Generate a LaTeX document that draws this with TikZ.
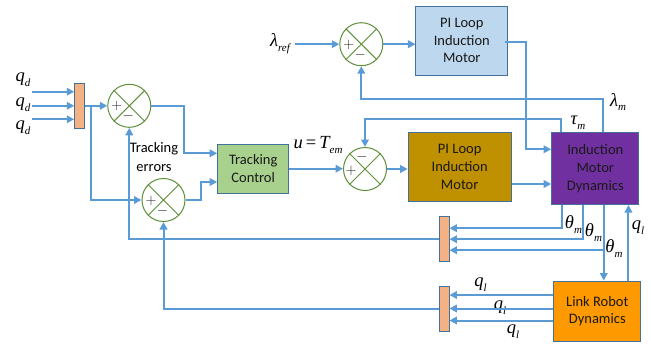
\documentclass[tikz,border=0pt]{standalone}
\usepackage{fontspec}
\setmainfont{Carlito}
\newfontfamily\lsf{Liberation Serif}
\usetikzlibrary{arrows.meta,calc}
\definecolor{ln}{HTML}{5B9BD5}
\definecolor{bd}{HTML}{41719C}
\definecolor{cg}{HTML}{5E8F3A}
\definecolor{muxf}{HTML}{F4B183}
\definecolor{tcg}{HTML}{A9D18E}
\definecolor{goldf}{HTML}{BF9000}
\definecolor{purp}{HTML}{7030A0}
\definecolor{lblue}{HTML}{BDD7EE}
\definecolor{orng}{HTML}{FF9900}
\newcommand{\vsub}[2]{{\lsf\itshape\fontsize{18.5}{18.5}\selectfont #1}{\lsf\itshape\fontsize{11}{11}\selectfont\raisebox{-0.45em}{#2}}}
\begin{document}
\begin{tikzpicture}[x=1pt,y=-1pt,
  blk/.style={rectangle,draw=bd,line width=1pt,align=center,inner sep=0pt,
    font=\fontsize{14.5}{17.7}\selectfont,text=black!90},
  sumc/.style={circle,draw=cg,line width=1pt,fill=white,minimum size=43pt,inner sep=0pt},
  mux/.style={rectangle,draw=bd,line width=0.9pt,fill=muxf,minimum width=10pt,minimum height=45pt,inner sep=0pt},
  arr/.style={draw=ln,line width=2pt,-{Triangle[length=7.5pt,width=7.5pt]}},
  sgn/.style={font=\fontsize{15}{15}\selectfont,text=black!85,inner sep=0pt},
  lab/.style={inner sep=0pt}
]
\useasboundingbox (0,0) rectangle (651,346);

% nodes
\node[mux] (m1) at (79.7,105.8) {};
\node[sumc] (c1) at (129.3,105.8) {};
\node[sumc] (c2) at (163.5,200) {};
\node[blk,fill=tcg,minimum width=71pt,minimum height=49pt] (tc) at (253.2,168.7) {Tracking\\Control};
\node[sumc] (c3) at (365,169) {};
\node[blk,fill=goldf,minimum width=103pt,minimum height=68.5pt] (pig) at (459.7,167) {PI Loop\\Induction\\Motor};
\node[blk,fill=purp,minimum width=87.3pt,minimum height=71.8pt] (imd) at (595.3,168.6) {Induction\\Motor\\Dynamics};
\node[sumc] (c4) at (361.3,44.2) {};
\node[blk,fill=lblue,minimum width=91.7pt,minimum height=69pt] (pib) at (461.8,40.5) {PI Loop\\Induction\\Motor};
\node[mux] (m2) at (444,239.2) {};
\node[mux] (m3) at (444,308.8) {};
\node[blk,fill=orng,minimum width=86.7pt,minimum height=60pt] (lrd) at (597.3,311) {Link Robot\\Dynamics};

% summing junction crosses and signs
\foreach \c in {c1,c2,c3,c4}{
  \draw[cg,line width=1pt] (\c.north west) -- (\c.south east);
  \draw[cg,line width=1pt] (\c.north east) -- (\c.south west);
}
\foreach \c in {c1,c2,c4}{
  \node[sgn] at ($(\c.center)+(-12.5,0.5)$) {$+$};
  \node[sgn] at ($(\c.center)+(-1,10.5)$) {$-$};
}
\node[sgn] (p3) at ($(c3.center)+(-14,2)$) {$+$};
\node[sgn] (n3) at ($(c3.center)+(-3,-12)$) {$-$};

% labels
\node[lab] (lqd1) at (23,80) {\vsub{q}{d}};
\node[lab] (lqd2) at (23,105) {\vsub{q}{d}};
\node[lab] (lqd3) at (23,128) {\vsub{q}{d}};
\node[lab,align=center,font=\fontsize{14.5}{19}\selectfont] (terr) at (154,157.5) {Tracking\\errors};
\node[lab] (lu) at (318,145) {{\lsf\itshape\fontsize{18.5}{18.5}\selectfont u\,}{\lsf\fontsize{18.5}{18.5}\selectfont=\,}\vsub{T}{em}};
\node[lab] (lref) at (280,43.5) {\vsub{λ}{ref}};
\node[lab] (llm) at (618,102) {\vsub{λ}{m}};
\node[lab] (ltm) at (578,123) {\vsub{τ}{m}};
\node[lab] (lth1) at (573.5,225) {\vsub{θ}{m}};
\node[lab] (lth2) at (593.5,233) {\vsub{θ}{m}};
\node[lab] (lth3) at (614,249) {\vsub{θ}{m}};
\node[lab] (lql0) at (638,228) {\vsub{q}{l}};
\node[lab] (lql1) at (480.5,285) {\vsub{q}{l}};
\node[lab] (lql2) at (500,307.5) {\vsub{q}{l}};
\node[lab] (lql3) at (513,331.7) {\vsub{q}{l}};

% free ends and helper points
\coordinate (qd1) at (32,91.7);
\coordinate (qd2) at (32,105.8);
\coordinate (qd3) at (32,119.3);
\coordinate (b1) at (90.7,105.8);
\coordinate (lr) at (295,44.2);
\coordinate (e1) at ($(tc.west)+(0,-15.4)$);
\coordinate (e2) at ($(tc.west)+(0,13.3)$);
\coordinate (g1) at ($(pig.east)+(0,17)$);
\coordinate (bo) at ($(pib.east)+(-3,1.2)$);
\coordinate (bi) at ($(imd.west)+(0,-19.3)$);
\coordinate (t1) at ($(imd.north west)+(10.3,0)$);
\coordinate (t2) at ($(imd.north west)+(52,0)$);
\coordinate (v1) at ($(imd.south west)+(10.6,0)$);
\coordinate (v2) at ($(imd.south west)+(32.3,0)$);
\coordinate (v3) at ($(imd.south west)+(52.6,0)$);
\coordinate (v4) at ($(lrd.north west)+(75,0)$);
\coordinate (m2a) at ($(m2.east)+(0,-11)$);
\coordinate (m2c) at ($(m2.east)+(0,11)$);
\coordinate (l1) at ($(lrd.west)+(0,-16)$);
\coordinate (l2) at ($(lrd.west)+(0,-2.5)$);
\coordinate (l3) at ($(lrd.west)+(0,9.5)$);

% connectors: references into mux 1
\draw[arr] (qd1) -- (qd1 -| m1.west);
\draw[arr] (qd2) -- (qd2 -| m1.west);
\draw[arr] (qd3) -- (qd3 -| m1.west);
\draw[arr] (m1.east) -- (c1.west);
\draw[arr] (b1) |- (c2.west);
% errors to tracking control
\draw[arr] (c1.east) -- (184.3,105.8) |- (e1);
\draw[arr] (c2.east) -- (201,200) |- (e2);
% torque loop
\draw[arr] (tc.east) -- (tc.east -| c3.west);
\draw[arr] (c3.east) -- (c3.east -| pig.west);
\draw[arr] (g1) -- (g1 -| imd.west);
% flux loop
\draw[arr] (lr) -- (c4.west);
\draw[arr] (c4.east) -- (c4.east -| pib.west);
\draw[arr] (bo) -- (525.7,41.7) |- (bi);
% feedbacks from motor
\draw[arr] (t1) -- ++(0,-13.5) -| (c3.north);
\draw[arr] (t2) -- ++(0,-33.5) -| (c4.south);
\draw[arr] (v1) |- (m2a);
\draw[arr] (v2) |- (m2.east);
\draw[arr] (v3) -- (v3 |- lrd.north);
\draw[arr] (m2c -| v3) -- (m2c);
\draw[arr] (v4) -- (v4 |- imd.south);
% link outputs into mux 3
\draw[arr] (l1) -- (l1 -| m3.east);
\draw[arr] (l2) -- (l2 -| m3.east);
\draw[arr] (l3) -- (l3 -| m3.east);
% mux outputs back to summing junctions
\draw[arr] (m2.west) -| (c1.south);
\draw[arr] (m3.west) -| (c2.south);
\end{tikzpicture}
\end{document}
